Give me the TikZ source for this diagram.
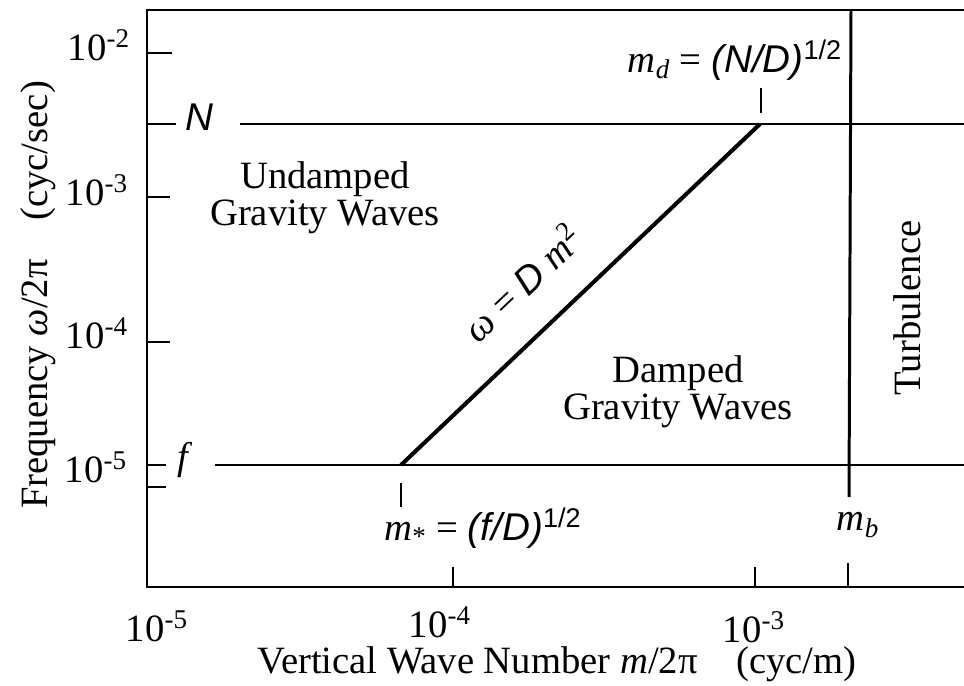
\documentclass[tikz,border=0pt]{standalone}
\usepackage{fontspec}
\setmainfont{Liberation Serif}
\newfontfamily\helv{Liberation Sans}
\begin{document}
\begin{tikzpicture}[x=0.02cm,y=-0.02cm,
  font=\fontsize{22}{21}\selectfont, inner sep=1pt,
  axisline/.style={line width=1.7pt},
  tickline/.style={line width=1.4pt}]

\useasboundingbox (0,0) rectangle (964,686);

\draw[axisline] (964,10) -- (147,10) -- (147,587) -- (964,587);

\coordinate (mstar) at (401,465);
\coordinate (md) at (760,124);
\coordinate (btop) at (851,10);
\coordinate (bend) at (849,497);

\draw[axisline] (215,465) -- (964,465);
\draw[axisline] (240,124) -- (964,124);
\draw[line width=2.3pt] (mstar) -- (md);
\draw[axisline] (btop) -- (bend);

\draw[tickline] (147,53) -- (172,53);
\draw[tickline] (147,124) -- (176,124);
\draw[tickline] (147,197) -- (170,197);
\draw[tickline] (147,342) -- (170,342);
\draw[tickline] (147,465) -- (166,465);
\draw[tickline] (147,487) -- (166,487);

\draw[tickline] (453,587) -- (453,567);
\draw[tickline] (755,587) -- (755,567);
\draw[tickline] (848,587) -- (848,563);
\draw[tickline] (401,483) -- (401,507);
\draw[tickline] (761,88) -- (761,113);

\node (ytwo) at (99,45) {10\textsuperscript{-2}};
\node (ythree) at (97,190) {10\textsuperscript{-3}};
\node (yfour) at (97,333) {10\textsuperscript{-4}};
\node (yfive) at (96,467) {10\textsuperscript{-5}};

\node (nlab) at (199,117) {\helv\itshape N};
\node (flab) at (185,460) {\textit{f}};

\node (xfive) at (157,626) {10\textsuperscript{-5}};
\node (xfour) at (440,622) {10\textsuperscript{-4}};
\node (xthree) at (754,627) {10\textsuperscript{-3}};

\node (mdlab) at (735,60) {\textit{m}\textsubscript{\textit{d}} = {\helv\itshape (N/D)}\textsuperscript{\helv 1/2}};
\node (mslab) at (483,528) {\textit{m}\textsubscript{*} = {\helv\itshape (f/D)}\textsuperscript{\helv 1/2}};
\node (mblab) at (858,525) {\textit{m}\textsubscript{\textit{b}}};

\node[align=center] (undamped) at (325,198) {Undamped\\Gravity Waves};
\node[align=center] (damped) at (678,392) {Damped\\Gravity Waves};
\node[rotate=90] (turb) at (907,308) {Turbulence};
\node[rotate=43.5] (rel) at (522,282) {\textit{ω} = {\helv\itshape D} \textit{m}\textsuperscript{2}};

\node[rotate=90] (ylab) at (38,295) {Frequency \textit{ω}/2π\quad(cyc/sec)};
\node (xlab) at (557,664) {Vertical Wave Number \textit{m}/2π\quad(cyc/m)};

\end{tikzpicture}
\end{document}
